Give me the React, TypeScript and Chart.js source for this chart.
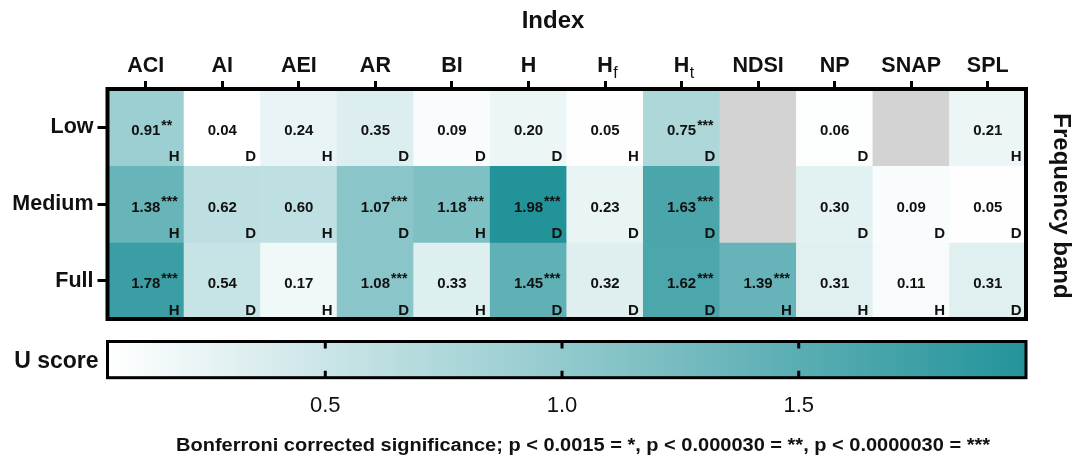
import React, { useEffect, useRef } from "react";
import { Chart, registerables } from "chart.js";

Chart.register(...registerables);

// ---------- data ----------
const indices = ["ACI", "AI", "AEI", "AR", "BI", "H", "Hf", "Ht", "NDSI", "NP", "SNAP", "SPL"];
const indexSubscripts: Record<string, string> = { Hf: "f", Ht: "t" };
const bands = ["Low", "Medium", "Full"];

const lowValues = [0.91, 0.04, 0.24, 0.35, 0.09, 0.2, 0.05, 0.75, null, 0.06, null, 0.21];
const mediumValues = [1.38, 0.62, 0.6, 1.07, 1.18, 1.98, 0.23, 1.63, null, 0.3, 0.09, 0.05];
const fullValues = [1.78, 0.54, 0.17, 1.08, 0.33, 1.45, 0.32, 1.62, 1.39, 0.31, 0.11, 0.31];

const lowStars = ["**", "", "", "", "", "", "", "***", "", "", "", ""];
const mediumStars = ["***", "", "", "***", "***", "***", "", "***", "", "", "", ""];
const fullStars = ["***", "", "", "***", "", "***", "", "***", "***", "", "", ""];

const lowLetters = ["H", "D", "H", "D", "D", "D", "H", "D", "", "D", "", "H"];
const mediumLetters = ["H", "D", "H", "D", "H", "D", "D", "D", "", "D", "D", "D"];
const fullLetters = ["H", "D", "H", "D", "H", "D", "D", "D", "H", "H", "H", "D"];

const colorbarTicks = [0.5, 1.0, 1.5];
const colorbarTitle = "U score";
const xTitle = "Index";
const yTitle = "Frequency band";
const footnote =
  "Bonferroni corrected significance; p < 0.0015 = *, p < 0.000030 = **, p < 0.0000030 = ***";

const rowValues = [lowValues, mediumValues, fullValues];
const rowStars = [lowStars, mediumStars, fullStars];
const rowLetters = [lowLetters, mediumLetters, fullLetters];

const allVals = rowValues.flat().filter((v) => v != null) as number[];
const colorMin = Math.min(...allVals);
const colorMax = Math.max(...allVals);

// ---------- style ----------
const FONT = '"Liberation Sans", Arial, Helvetica, sans-serif';
const LOW_RGB = [255, 255, 255];
const HIGH_RGB = [35, 147, 154];
const NA_COLOR = "#d3d3d3";

function colorFor(v: number | null): string {
  if (v == null) return NA_COLOR;
  let t = (v - colorMin) / (colorMax - colorMin);
  t = Math.max(0, Math.min(1, t));
  const c = LOW_RGB.map((l, i) => Math.round(l + (HIGH_RGB[i] - l) * t));
  return `rgb(${c[0]},${c[1]},${c[2]})`;
}

const decorPlugin = {
  id: "decor",
  afterDatasetsDraw(chart: any) {
    const { ctx, chartArea, scales } = chart;
    const xs = scales.x;
    const ys = scales.y;
    ctx.save();
    const colW = xs.getPixelForValue(1) - xs.getPixelForValue(0);
    rowValues.forEach((vals, r) => {
      const top = ys.getPixelForValue(r);
      const bottom = ys.getPixelForValue(r + 1);
      const cy = (top + bottom) / 2;
      vals.forEach((v, c) => {
        if (v == null) return;
        const cx = xs.getPixelForValue(c);
        const txt = v.toFixed(2);
        ctx.fillStyle = "#111";
        ctx.textBaseline = "alphabetic";
        ctx.font = `bold 15px ${FONT}`;
        ctx.textAlign = "center";
        const base = cy + 7.8;
        ctx.fillText(txt, cx, base);
        const w = ctx.measureText(txt).width;
        const st = rowStars[r][c];
        if (st) {
          ctx.font = `bold 14px ${FONT}`;
          ctx.textAlign = "left";
          ctx.fillText(st, cx + w / 2 + 1, base - 5.5);
        }
        const letter = rowLetters[r][c];
        if (letter) {
          ctx.font = `bold 15px ${FONT}`;
          ctx.textAlign = "right";
          ctx.fillText(letter, cx + colW / 2 - 4.5, bottom - 4.5);
        }
      });
    });
    // frame
    ctx.strokeStyle = "#000";
    ctx.lineWidth = 4;
    ctx.strokeRect(
      chartArea.left,
      chartArea.top,
      chartArea.right - chartArea.left,
      chartArea.bottom - chartArea.top
    );
    ctx.restore();
  },
  afterDraw(chart: any) {
    const { ctx, chartArea, scales } = chart;
    const xs = scales.x;
    const cb = scales.cb;
    ctx.save();
    // subscripts for Hf / Ht
    indices.forEach((name, c) => {
      const sub = indexSubscripts[name];
      if (!sub) return;
      const px = xs.getPixelForValue(c);
      ctx.font = `bold 21.5px ${FONT}`;
      const wH = ctx.measureText(name.replace(sub, "")).width;
      ctx.font = `16px ${FONT}`;
      ctx.fillStyle = "#111";
      ctx.textAlign = "left";
      ctx.textBaseline = "alphabetic";
      ctx.fillText(sub, px + wH / 2 + 0.5, chartArea.top - 11.5);
    });

    // x title
    ctx.fillStyle = "#111";
    ctx.font = `bold 24px ${FONT}`;
    ctx.textAlign = "center";
    ctx.textBaseline = "alphabetic";
    ctx.fillText(xTitle, 553, 28.3);

    // y (right) title
    ctx.save();
    ctx.translate(1061, (chartArea.top + chartArea.bottom) / 2 + 2);
    ctx.rotate(Math.PI / 2);
    ctx.textBaseline = "middle";
    ctx.textAlign = "center";
    ctx.fillText(yTitle, 0, 0);
    ctx.restore();

    // colorbar
    const cbTop = 341.5;
    const cbBottom = 377.7;
    const l = cb.left;
    const r = cb.right;
    const grad = ctx.createLinearGradient(l, 0, r, 0);
    for (let i = 0; i <= 10; i++) {
      const v = cb.min + ((cb.max - cb.min) * i) / 10;
      grad.addColorStop(i / 10, colorFor(v));
    }
    ctx.fillStyle = grad;
    ctx.fillRect(l, cbTop, r - l, cbBottom - cbTop);
    ctx.strokeStyle = "#000";
    ctx.lineWidth = 3;
    ctx.strokeRect(l, cbTop, r - l, cbBottom - cbTop);
    ctx.font = `22px ${FONT}`;
    ctx.fillStyle = "#111";
    ctx.textAlign = "center";
    ctx.textBaseline = "alphabetic";
    cb.ticks.forEach((t: any) => {
      const px = cb.getPixelForValue(t.value);
      ctx.beginPath();
      ctx.moveTo(px, cbTop);
      ctx.lineTo(px, cbTop + 7);
      ctx.moveTo(px, cbBottom);
      ctx.lineTo(px, cbBottom - 7);
      ctx.stroke();
      ctx.fillText(t.value.toFixed(1), px, 411.6);
    });
    ctx.font = `bold 23px ${FONT}`;
    ctx.textAlign = "right";
    ctx.fillText(colorbarTitle, 98.5, 368.3);

    // footnote (slightly wide lettering, as in the source figure)
    ctx.font = `bold 18px ${FONT}`;
    ctx.textAlign = "center";
    const fw = ctx.measureText(footnote).width;
    const targetW = 814;
    ctx.save();
    ctx.translate(583, 451);
    ctx.scale(targetW / fw, 1);
    ctx.fillText(footnote, 0, 0);
    ctx.restore();
    ctx.restore();
  },
};

export default function App() {
  const ref = useRef<HTMLCanvasElement | null>(null);
  useEffect(() => {
    if (!ref.current) return;
    const datasets = bands.map((b, r) => ({
      label: b,
      data: indices.map(() => [r, r + 1]),
      backgroundColor: rowValues[r].map((v) => colorFor(v)),
      borderWidth: 0,
      barPercentage: 1,
      categoryPercentage: 1,
      grouped: false,
      xAxisID: "x",
      yAxisID: "y",
    }));
    const chart = new Chart(ref.current, {
      type: "bar",
      data: { labels: indices, datasets: datasets as any },
      options: {
        animation: false,
        responsive: true,
        maintainAspectRatio: false,
        events: [],
        layout: { padding: { left: 0, right: 50, top: 0, bottom: 0 } },
        plugins: { legend: { display: false }, tooltip: { enabled: false } },
        scales: {
          x: {
            type: "category",
            position: "top",
            offset: true,
            grid: {
              offset: false,
              drawOnChartArea: false,
              drawTicks: true,
              tickLength: 8,
              tickWidth: 3,
              tickColor: "#000",
            },
            border: { display: false },
            ticks: {
              autoSkip: false,
              maxRotation: 0,
              padding: 2,
              color: "#111",
              font: { family: FONT, size: 21.5, weight: "bold" },
              callback: (_v: any, i: number) => {
                const name = indices[i];
                const sub = indexSubscripts[name];
                return sub ? name.slice(0, name.length - sub.length) : name;
              },
            },
            afterFit: (s: any) => {
              s.height = 89;
            },
          },
          cb: {
            type: "linear",
            position: "bottom",
            offset: false,
            min: colorMin,
            max: colorMax,
            grid: { display: false, offset: false },
            border: { display: false },
            ticks: { display: false },
            afterBuildTicks: (axis: any) => {
              axis.ticks = colorbarTicks.map((v) => ({ value: v }));
            },
            afterFit: (s: any) => {
              s.height = 141;
            },
          },
          y: {
            type: "linear",
            position: "left",
            min: 0,
            max: 3,
            reverse: true,
            grid: {
              drawOnChartArea: false,
              drawTicks: true,
              tickLength: 10,
              tickWidth: 3,
              tickColor: "#000",
            },
            border: { display: false },
            ticks: {
              padding: 4,
              color: "#111",
              font: { family: FONT, size: 21.5, weight: "bold" },
              callback: (_v: any, i: number) => bands[i],
            },
            afterBuildTicks: (axis: any) => {
              axis.ticks = bands.map((_b, i) => ({ value: i + 0.5 }));
            },
            afterFit: (s: any) => {
              s.width = 107.5;
            },
          },
        },
      } as any,
      plugins: [decorPlugin],
    });
    return () => chart.destroy();
  }, []);
  return (
    <div
      style={{
        position: "absolute",
        left: 0,
        top: 0,
        width: 1076,
        height: 460,
        background: "#fff",
      }}
    >
      <canvas ref={ref} />
    </div>
  );
}
